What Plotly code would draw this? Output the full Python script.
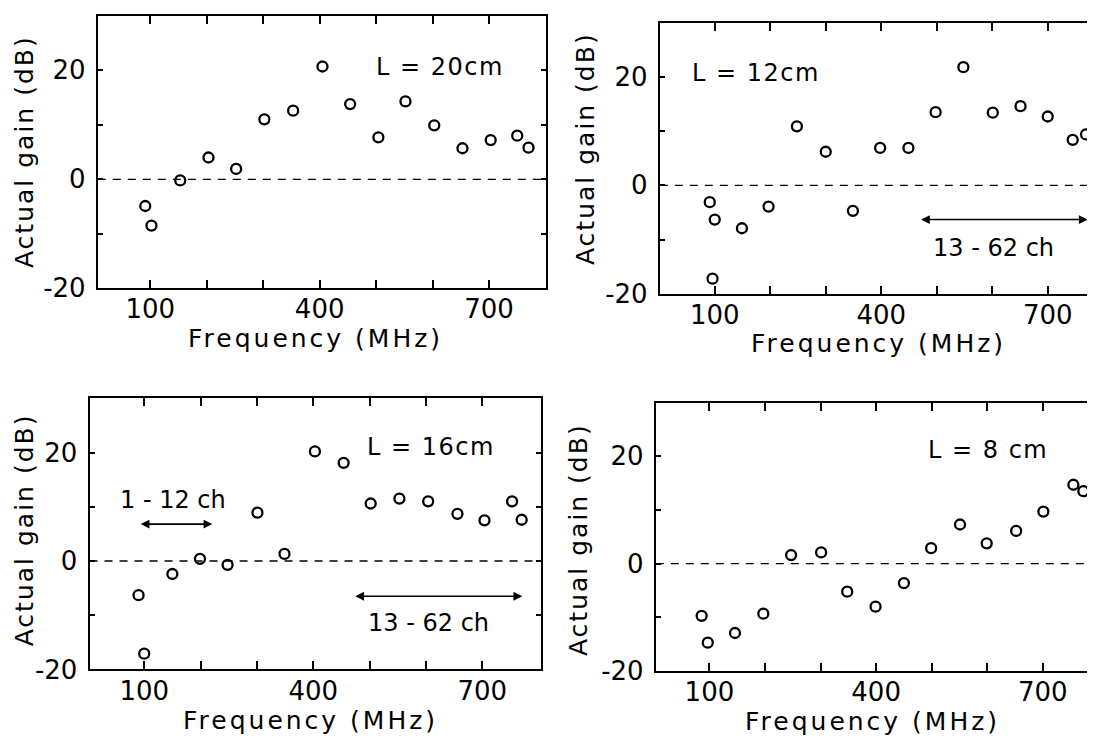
import plotly.graph_objects as go

W, H = 1095, 747
FONT = "DejaVu Sans"

# ---------------- data ----------------
freq_20 = [91, 102, 153, 203, 252, 302, 353, 405, 454, 504, 552, 603, 653, 703, 750, 770]
gain_20 = [-4.9, -8.5, -0.2, 4.0, 1.9, 11.0, 12.6, 20.7, 13.8, 7.7, 14.3, 9.9, 5.7, 7.2, 8.0, 5.8]

freq_12 = [91, 100, 96, 149, 197, 248, 300, 349, 398, 449, 498, 548, 601, 651, 700, 745, 769]
gain_12 = [-3.1, -6.3, -17.2, -7.9, -3.9, 10.9, 6.2, -4.7, 6.9, 6.9, 13.5, 21.8, 13.4, 14.6, 12.7, 8.4, 9.4]

freq_16 = [90, 100, 150, 199, 248, 301, 349, 403, 454, 502, 553, 604, 656, 704, 753, 770]
gain_16 = [-6.3, -17.1, -2.4, 0.4, -0.7, 8.9, 1.3, 20.2, 18.1, 10.6, 11.5, 11.0, 8.7, 7.5, 11.0, 7.6]

freq_8 = [86, 97, 146, 197, 247, 301, 348, 399, 450, 499, 551, 599, 652, 701, 755, 773]
gain_8 = [-9.7, -14.7, -12.9, -9.3, 1.6, 2.1, -5.2, -8.0, -3.6, 2.9, 7.3, 3.8, 6.1, 9.7, 14.7, 13.5]

panel_labels = ["L = 20cm", "L = 12cm", "L = 16cm", "L = 8 cm"]
band_uhf = "13 - 62 ch"
band_vhf = "1 - 12 ch"
uhf_band_12 = [469, 772]
uhf_band_16 = [472, 771]
vhf_band_16 = [91, 221]

x_tick_vals = [100, 200, 300, 400, 500, 600, 700]
x_tick_text = ["100", "", "", "400", "", "", "700"]
y_tick_vals = [-20, -10, 0, 10, 20]
y_tick_text = ["-20", "", "0", "", "20"]
x_title = "Frequency (MHz)"
y_title = "Actual gain (dB)"

# ---------------- layout geometry (pixels) ----------------
panels = [
    dict(f=freq_20, g=gain_20, dx=(90, 539), dy=(8, 286), xr=(7, 801),
         lab=(613, 20.6), ytp=(16, 146), xtp=(308, 337)),
    dict(f=freq_12, g=gain_12, dx=(653, 1095), dy=(15, 291.7), xr=(1, 796),
         lab=(175, 20.8), ytp=(578, 143), xtp=(872, 342)),
    dict(f=freq_16, g=gain_16, dx=(81.7, 533.8), dy=(398.3, 675), xr=(3, 804),
         lab=(609, 21.1), ytp=(16, 532), xtp=(303, 727)),
    dict(f=freq_8, g=gain_8, dx=(649, 1092.7), dy=(402.7, 676.7), xr=(3.5, 800.6),
         lab=(602, 21.1), ytp=(571, 542), xtp=(866, 728)),
]


def px(x):
    return x / W


def py(y):
    return 1 - y / H


def spaced(text, ls):
    return f'<span style="letter-spacing:{ls}px">{text}</span>'


fig = go.Figure()
layout = dict(width=W, height=H, autosize=False, margin=dict(l=0, r=0, t=0, b=0),
              paper_bgcolor="white", plot_bgcolor="white", showlegend=False,
              font=dict(family=FONT, size=26, color="black"))
annotations = []
shapes = []

for i, p in enumerate(panels):
    n = i + 1
    xa = "xaxis" if n == 1 else f"xaxis{n}"
    ya = "yaxis" if n == 1 else f"yaxis{n}"
    xref = "x" if n == 1 else f"x{n}"
    yref = "y" if n == 1 else f"y{n}"
    layout[xa] = dict(domain=[px(p["dx"][0]), min(1.0, px(p["dx"][1]))], range=list(p["xr"]),
                      anchor=yref, tickmode="array", tickvals=x_tick_vals, ticktext=x_tick_text,
                      ticks="inside", ticklen=8, tickwidth=2, tickcolor="black",
                      showline=True, linewidth=2, linecolor="black", mirror="ticks",
                      showgrid=False, zeroline=False, ticklabelstandoff=-3,
                      tickfont=dict(family=FONT, size=26, color="black"))
    layout[ya] = dict(domain=[py(p["dy"][1]), py(p["dy"][0])], range=[-20, 30],
                      anchor=xref, tickmode="array", tickvals=y_tick_vals, ticktext=y_tick_text,
                      ticks="inside", ticklen=5, tickwidth=2, tickcolor="black",
                      showline=True, linewidth=2, linecolor="black", mirror="ticks",
                      showgrid=False, zeroline=False, ticklabelstandoff=5,
                      tickfont=dict(family=FONT, size=26, color="black"))
    fig.add_trace(go.Scatter(x=p["f"], y=p["g"], mode="markers", xaxis=xref, yaxis=yref,
                             marker=dict(symbol="circle-open", size=10, color="black",
                                         line=dict(width=2.3, color="black")),
                             hoverinfo="skip"))
    shapes.append(dict(type="line", xref=f"{xref} domain", yref=yref, x0=0, x1=1, y0=0, y1=0,
                       line=dict(color="black", width=1.3, dash="8px,7px")))
    annotations.append(dict(x=p["lab"][0], y=p["lab"][1], xref=xref, yref=yref,
                            xanchor="center", yanchor="middle",
                            text=spaced(panel_labels[i], 1.5), showarrow=False,
                            font=dict(family=FONT, size=24, color="black")))
    annotations.append(dict(x=px(p["ytp"][0]), y=py(p["ytp"][1]), xref="paper", yref="paper",
                            xanchor="center", yanchor="middle",
                            text=spaced(y_title, 2), textangle=-90, showarrow=False,
                            font=dict(family=FONT, size=25, color="black")))
    annotations.append(dict(x=px(p["xtp"][0]), y=py(p["xtp"][1]), xref="paper", yref="paper",
                            xanchor="center", yanchor="middle",
                            text=spaced(x_title, 3), showarrow=False,
                            font=dict(family=FONT, size=25, color="black")))


def double_arrow(xref, yref, x0, x1, y):
    annotations.append(dict(x=x1, y=y, ax=x0, ay=y, xref=xref, yref=yref, axref=xref, ayref=yref,
                            text="", showarrow=True, arrowhead=2, startarrowhead=2,
                            arrowside="end+start", arrowsize=1.1, startarrowsize=1.1,
                            arrowwidth=1.6, arrowcolor="black"))


def label(xref, yref, x, y, text):
    annotations.append(dict(x=x, y=y, xref=xref, yref=yref, xanchor="center", yanchor="middle",
                            text=text, showarrow=False,
                            font=dict(family=FONT, size=24, color="black")))


# panel 2 (L = 12 cm)
double_arrow("x2", "y2", uhf_band_12[0], uhf_band_12[1], -6.3)
label("x2", "y2", 602, -11.5, band_uhf)
# panel 3 (L = 16 cm)
double_arrow("x3", "y3", vhf_band_16[0], vhf_band_16[1], 6.8)
label("x3", "y3", 151, 11.2, band_vhf)
double_arrow("x3", "y3", uhf_band_16[0], uhf_band_16[1], -6.5)
label("x3", "y3", 604, -11.5, band_uhf)

layout["annotations"] = annotations
layout["shapes"] = shapes
fig.update_layout(**layout)
fig.write_html("out.html", config={"displayModeBar": False})
